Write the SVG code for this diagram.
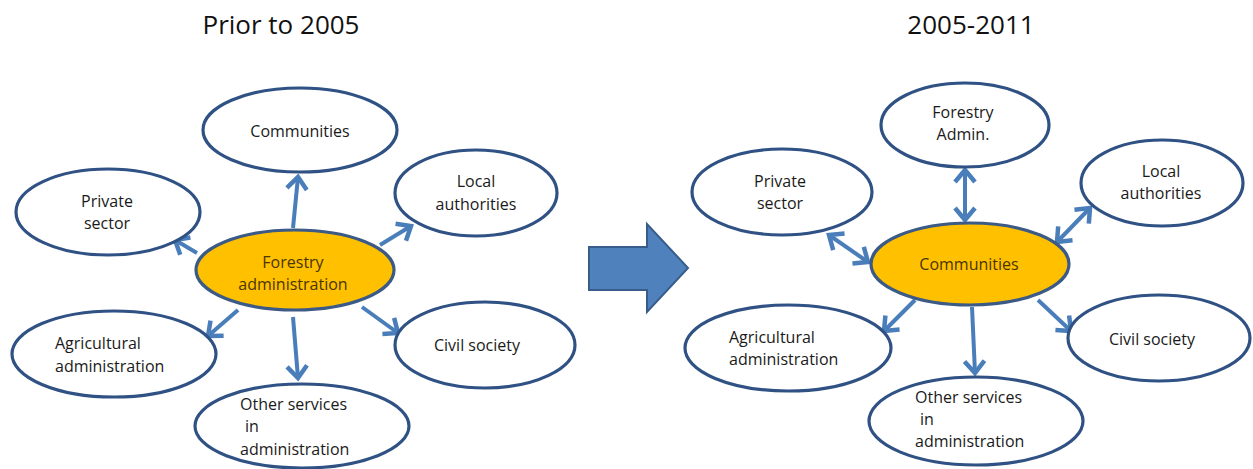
<svg xmlns="http://www.w3.org/2000/svg" width="1253" height="469" viewBox="0 0 1253 469">
<style>
.n{fill:#fff;stroke:#2f5183;stroke-width:3.2}
.c{fill:#ffc000;stroke:#3b5a86;stroke-width:3.2}
.t{font-family:"Open Sans","Liberation Sans",sans-serif;font-size:16px;fill:#1a1a1a;text-anchor:middle}
.l{text-anchor:start}
.ct{fill:#4a3500}
.h{font-family:"Open Sans","Liberation Sans",sans-serif;font-size:26px;fill:#111;text-anchor:middle}
.e{fill:none;stroke:#4a7ebb;stroke-width:4}
</style>
<defs>
<marker id="ah" markerUnits="userSpaceOnUse" viewBox="-16 -13 20 26" refX="0" refY="0" markerWidth="20" markerHeight="26" orient="auto-start-reverse">
<path d="M-12,-10 L0,0 L-12,10" fill="none" stroke="#4a7ebb" stroke-width="4.5" stroke-linejoin="miter"/>
</marker>
</defs>
<rect width="1253" height="469" fill="#fff"/>
<text class="h" x="281" y="34">Prior to 2005</text>
<text class="h" x="971" y="34">2005-2011</text>

<g id="connectors">
<line class="e" x1="293" y1="228" x2="298" y2="177" marker-end="url(#ah)"/>
<line class="e" x1="197" y1="253" x2="175" y2="240" marker-end="url(#ah)"/>
<line class="e" x1="380" y1="245" x2="411" y2="226" marker-end="url(#ah)"/>
<line class="e" x1="238" y1="310" x2="208" y2="336" marker-end="url(#ah)"/>
<line class="e" x1="293" y1="317" x2="298" y2="378" marker-end="url(#ah)"/>
<line class="e" x1="362" y1="307" x2="398" y2="333" marker-end="url(#ah)"/>
<line class="e" x1="965" y1="170" x2="965" y2="220" marker-start="url(#ah)" marker-end="url(#ah)"/>
<line class="e" x1="829" y1="235" x2="868" y2="262" marker-start="url(#ah)" marker-end="url(#ah)"/>
<line class="e" x1="1057" y1="242" x2="1090" y2="208" marker-start="url(#ah)" marker-end="url(#ah)"/>
<line class="e" x1="915" y1="300" x2="884" y2="331" marker-end="url(#ah)"/>
<line class="e" x1="972" y1="307" x2="975" y2="373" marker-end="url(#ah)"/>
<line class="e" x1="1038" y1="300" x2="1071" y2="331" marker-end="url(#ah)"/>
</g>

<g id="big-arrow">
<path d="M589,247 L647,247 L647,224 L688,268 L647,312 L647,290 L589,290 Z" fill="#4f81bd" stroke="#385d8a" stroke-width="2"/>
</g>

<g id="l-communities"><ellipse class="n" cx="300" cy="130" rx="97" ry="42"/><text class="t" x="300" y="137">Communities</text></g>
<g id="l-private"><ellipse class="n" cx="108" cy="212" rx="92" ry="43"/><text class="t" x="107" y="207">Private</text><text class="t" x="107" y="229">sector</text></g>
<g id="l-forestry"><ellipse class="c" cx="295" cy="270" rx="99" ry="40"/><text class="t ct" x="293" y="268">Forestry</text><text class="t ct" x="293" y="290">administration</text></g>
<g id="l-local"><ellipse class="n" cx="476" cy="193" rx="81" ry="43"/><text class="t" x="476" y="187">Local</text><text class="t" x="476" y="210">authorities</text></g>
<g id="l-agri"><ellipse class="n" cx="114" cy="354" rx="102" ry="43"/><text class="t l" x="55" y="349">Agricultural</text><text class="t l" x="55" y="372">administration</text></g>
<g id="l-civil"><ellipse class="n" cx="485" cy="345" rx="90" ry="43"/><text class="t" x="477" y="351">Civil society</text></g>
<g id="l-other"><ellipse class="n" cx="302" cy="426" rx="107" ry="42"/><text class="t l" x="240" y="410">Other services</text><text class="t l" x="245" y="432">in</text><text class="t l" x="240" y="455">administration</text></g>

<g id="r-forestry"><ellipse class="n" cx="965" cy="125" rx="84" ry="42"/><text class="t" x="963" y="118">Forestry</text><text class="t" x="963" y="140">Admin.</text></g>
<g id="r-private"><ellipse class="n" cx="782" cy="192" rx="90" ry="43"/><text class="t" x="780" y="187">Private</text><text class="t" x="780" y="209">sector</text></g>
<g id="r-communities"><ellipse class="c" cx="970" cy="264" rx="99" ry="41"/><text class="t ct" x="969" y="270">Communities</text></g>
<g id="r-local"><ellipse class="n" cx="1162" cy="183" rx="81" ry="43"/><text class="t" x="1161" y="177">Local</text><text class="t" x="1161" y="199">authorities</text></g>
<g id="r-agri"><ellipse class="n" cx="788" cy="348" rx="103" ry="43"/><text class="t l" x="729" y="343">Agricultural</text><text class="t l" x="729" y="365">administration</text></g>
<g id="r-civil"><ellipse class="n" cx="1159" cy="338" rx="91" ry="43"/><text class="t" x="1152" y="345">Civil society</text></g>
<g id="r-other"><ellipse class="n" cx="976" cy="421" rx="107" ry="44"/><text class="t l" x="915" y="403">Other services</text><text class="t l" x="920" y="425">in</text><text class="t l" x="915" y="447">administration</text></g>
</svg>
